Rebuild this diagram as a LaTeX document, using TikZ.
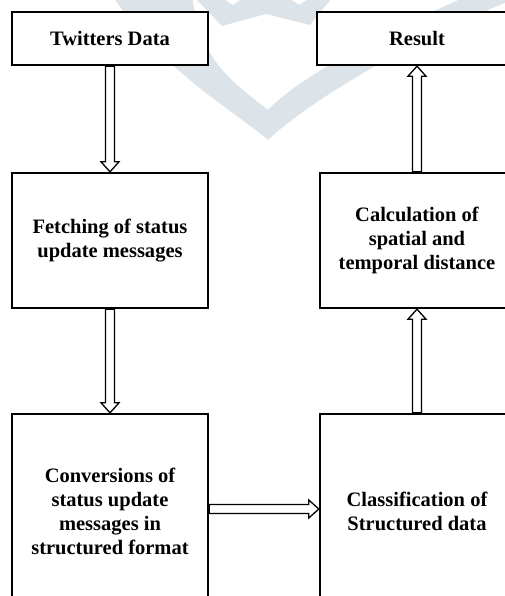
\documentclass[tikz,border=0pt]{standalone}
\usepackage{fontspec}
\setmainfont{Liberation Serif}
\usetikzlibrary{calc}
\definecolor{wm}{RGB}{221,228,233}
\tikzset{
  box/.style={draw=black, line width=2.4pt, fill=white, rectangle, align=center,
    font=\fontsize{20.5}{24}\selectfont\bfseries, inner sep=0pt},
  blk/.style={draw=black, line width=1.3pt, fill=white, line join=miter},
}
\newcommand\BlkDown[2]{\draw[blk] ($(#1)+(-4.5,0)$) -- ($(#2)+(-4.5,-10)$) -- ($(#2)+(-9,-10)$) -- (#2) -- ($(#2)+(9,-10)$) -- ($(#2)+(4.5,-10)$) -- ($(#1)+(4.5,0)$) -- cycle;}
\newcommand\BlkUp[2]{\draw[blk] ($(#1)+(-4.5,0)$) -- ($(#2)+(-4.5,10)$) -- ($(#2)+(-9,10)$) -- (#2) -- ($(#2)+(9,10)$) -- ($(#2)+(4.5,10)$) -- ($(#1)+(4.5,0)$) -- cycle;}
\newcommand\BlkRight[2]{\draw[blk] ($(#1)+(0,-4.5)$) -- ($(#2)+(-10,-4.5)$) -- ($(#2)+(-10,-9)$) -- (#2) -- ($(#2)+(-10,9)$) -- ($(#2)+(-10,4.5)$) -- ($(#1)+(0,4.5)$) -- cycle;}
\begin{document}
\begin{tikzpicture}[x=1pt, y=-1pt]
\useasboundingbox (0,0) rectangle (505,596);
\clip (0,0) rectangle (505,596);
% watermark
\fill[wm] (268,140) .. controls (310,100) and (420,35) .. (525,-5) -- (470,-5)
  .. controls (400,25) and (300,75) .. (268,110)
  .. controls (230,80) and (200,60) .. (192,-5) -- (112,-5)
  .. controls (160,70) and (240,115) .. (268,140) -- cycle;
\fill[wm] (195,-2) -- (222,-2) -- (233,5) -- (243,-2) -- (289,-2) -- (299,5) -- (310,-2) -- (332,-2)
  -- (310,25) -- (266,14) -- (222,26) -- cycle;
% boxes
\node[box, minimum width=196pt, minimum height=53pt] (td) at (110,38.5) {Twitters Data};
\node[box, minimum width=200pt, minimum height=53pt] (res) at (417,38.5) {Result};
\node[box, minimum width=196pt, minimum height=135pt] (fe) at (110,240.5) {Fetching of status\\update messages};
\node[box, minimum width=194pt, minimum height=135pt] (ca) at (417,240.5) {Calculation of\\spatial and\\temporal distance};
\node[box, minimum width=196pt, minimum height=194pt] (co) at (110,511) {Conversions of\\status update\\messages in\\structured format};
\node[box, minimum width=194pt, minimum height=194pt] (cl) at (417,511) {Classification of\\Structured data};
% arrows
\BlkDown{td.south}{fe.north}
\BlkDown{fe.south}{co.north}
\BlkUp{cl.north}{ca.south}
\BlkUp{ca.north}{res.south}
\coordinate (hs) at ($(co.east)+(0,-2)$);
\coordinate (he) at ($(cl.west)+(0,-2)$);
\BlkRight{hs}{he}
\end{tikzpicture}
\end{document}
